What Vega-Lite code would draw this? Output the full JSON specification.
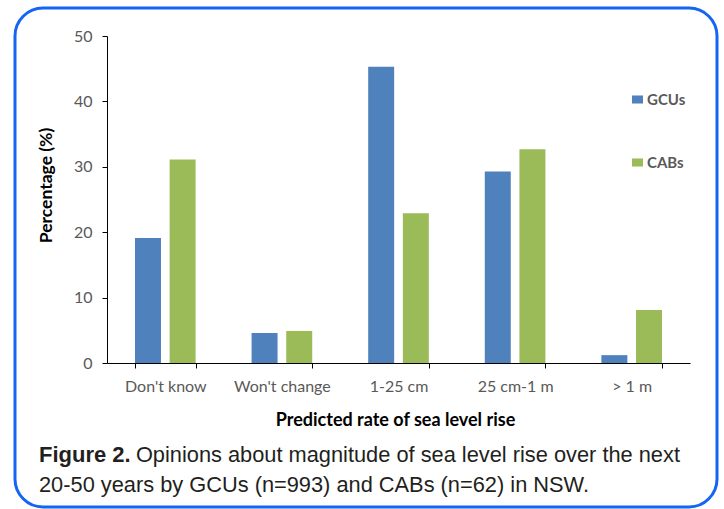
{
  "$schema": "https://vega.github.io/schema/vega-lite/v6.json",
  "width": 702,
  "height": 499,
  "autosize": {"type": "none"},
  "padding": {"left": 15, "top": 8, "right": 7, "bottom": 2},
  "background": "white",
  "config": {
    "view": {"stroke": "#1565F5", "strokeWidth": 3, "cornerRadius": 28},
    "font": "Lato"
  },
  "title": {
    "text": "Figure 2.",
    "subtitle": ["\u200b\u00a0\u00a0\u00a0\u00a0\u00a0\u00a0\u00a0\u00a0\u00a0\u00a0\u00a0\u00a0\u00a0\u00a0\u00a0\u00a0Opinions about magnitude of sea level rise over the next", "20-50 years by GCUs (n=993) and CABs (n=62) in NSW."],
    "orient": "bottom",
    "anchor": "start",
    "frame": "group",
    "offset": -62,
    "dx": 24,
    "font": "Liberation Sans",
    "fontSize": 22,
    "fontWeight": "bold",
    "color": "#231f20",
    "subtitleFont": "Liberation Sans",
    "subtitleFontSize": 21.8,
    "subtitleFontWeight": "normal",
    "subtitleColor": "#231f20",
    "subtitleLineHeight": 30,
    "subtitlePadding": -22
  },
  "data": {
    "values": [
      {"category": "Don't know", "group": "GCUs", "value": 19.1},
      {"category": "Don't know", "group": "CABs", "value": 31.1},
      {"category": "Won't change", "group": "GCUs", "value": 4.6},
      {"category": "Won't change", "group": "CABs", "value": 4.9},
      {"category": "1-25 cm", "group": "GCUs", "value": 45.3},
      {"category": "1-25 cm", "group": "CABs", "value": 22.9},
      {"category": "25 cm-1 m", "group": "GCUs", "value": 29.3},
      {"category": "25 cm-1 m", "group": "CABs", "value": 32.7},
      {"category": "> 1 m", "group": "GCUs", "value": 1.2},
      {"category": "> 1 m", "group": "CABs", "value": 8.1}
    ]
  },
  "mark": {"type": "bar"},
  "encoding": {
    "x": {
      "field": "category",
      "type": "nominal",
      "sort": null,
      "scale": {"range": [92, 675], "paddingInner": 0.48, "paddingOuter": 0.24},
      "axis": {
        "orient": "bottom",
        "offset": -144,
        "title": "Predicted rate of sea level rise",
        "titleFont": "Lato",
        "titleFontSize": 18,
        "titleFontWeight": "bold",
        "titleColor": "#000000",
        "titlePadding": 17,
        "titleX": 380,
        "labelAngle": 0,
        "labelFont": "Lato",
        "labelFontSize": 16,
        "labelColor": "#595959",
        "labelPadding": 10,
        "domainColor": "#000000",
        "domainWidth": 1,
        "tickColor": "#000000",
        "tickSize": 5,
        "tickBand": "extent",
        "grid": false
      }
    },
    "xOffset": {
      "field": "group",
      "type": "nominal",
      "sort": ["GCUs", "CABs"],
      "scale": {"paddingInner": 0.25, "paddingOuter": 0}
    },
    "y": {
      "field": "value",
      "type": "quantitative",
      "scale": {"domain": [0, 50], "range": [355, 28], "nice": false},
      "axis": {
        "orient": "left",
        "offset": -92,
        "values": [0, 10, 20, 30, 40, 50],
        "title": "Percentage (%)",
        "titleFont": "Lato",
        "titleFontSize": 17.5,
        "titleFontWeight": "bold",
        "titleColor": "#000000",
        "titleAngle": -90,
        "titleX": -61,
        "titleY": 177,
        "titleBaseline": "middle",
        "titleAlign": "center",
        "labelFont": "Lato",
        "labelFontSize": 16,
        "labelColor": "#595959",
        "labelPadding": 10,
        "domainColor": "#000000",
        "domainWidth": 1,
        "tickColor": "#000000",
        "tickSize": 5,
        "grid": false
      }
    },
    "color": {
      "field": "group",
      "type": "nominal",
      "scale": {"domain": ["GCUs", "CABs"], "range": ["#4F81BD", "#9BBB59"]},
      "legend": {
        "orient": "none",
        "legendX": 615,
        "legendY": 84,
        "title": null,
        "symbolType": "M-1,-0.73H1V0.73H-1Z",
        "symbolSize": 121,
        "symbolStrokeWidth": 0,
        "labelFont": "Lato",
        "labelFontSize": 15,
        "labelFontWeight": "bold",
        "labelColor": "#595959",
        "labelOffset": 2,
        "rowPadding": 47
      }
    }
  }
}
